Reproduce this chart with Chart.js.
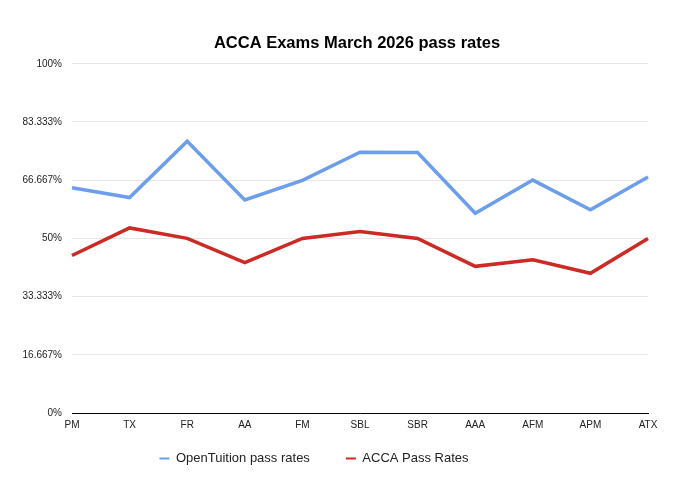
<!DOCTYPE html>
<html>
<head>
<meta charset="utf-8">
<script src="https://cdn.jsdelivr.net/npm/chart.js@4"></script>
<style>
  html, body { margin: 0; padding: 0; background: #fff; }
  #wrap { width: 686px; height: 480px; }
</style>
</head>
<body>
<div id="wrap"><canvas id="myChart" width="686" height="480"></canvas></div>
<script>
// exam papers on the x axis
var papers = ['PM', 'TX', 'FR', 'AA', 'FM', 'SBL', 'SBR', 'AAA', 'AFM', 'APM', 'ATX'];

// pass rates in percent
var openTuitionRates = [64.5, 61.7, 77.8, 61.0, 66.6, 74.7, 74.6, 57.2, 66.7, 58.2, 67.6];
var accaRates = [45.1, 53.0, 50.0, 43.1, 50.0, 52.0, 50.0, 42.0, 43.9, 40.0, 50.0];

// y axis tick labels, one per sixth
var yTickLabels = ['0%', '16.667%', '33.333%', '50%', '66.667%', '83.333%', '100%'];

var fontFamily = '"Liberation Sans", Arial, Helvetica, sans-serif';

// move the title over the plot and the legend a bit left/up, like the original
var boxShift = {
  id: 'boxShift',
  afterLayout: function (chart) {
    chart.titleBlock.left += 33;
    chart.titleBlock.right += 33;
    chart.legend.left -= 10;
    chart.legend.right -= 10;
    chart.legend.top -= 21;
    chart.legend.bottom -= 21;
  }
};

var chartdata = {
  labels: papers,
  datasets: [
    {
      label: 'OpenTuition pass rates',
      data: openTuitionRates,
      borderColor: '#6d9eeb',
      backgroundColor: '#6d9eeb',
      borderWidth: 3.5,
      pointRadius: 0,
      tension: 0,
      fill: false
    },
    {
      label: 'ACCA Pass Rates',
      data: accaRates,
      borderColor: '#cc2a24',
      backgroundColor: '#cc2a24',
      borderWidth: 3.5,
      pointRadius: 0,
      tension: 0,
      fill: false
    }
  ]
};

var ctx = document.getElementById('myChart').getContext('2d');
var chart = new Chart(ctx, {
  type: 'line',
  data: chartdata,
  plugins: [boxShift],
  options: {
    responsive: false,
    animation: false,
    layout: { padding: { left: 0, right: 38, top: 0, bottom: -16 } },
    plugins: {
      title: {
        display: true,
        text: 'ACCA Exams March 2026 pass rates',
        color: '#000',
        font: { family: fontFamily, size: 16.5, weight: 'bold' },
        padding: { top: 34, bottom: 10 }
      },
      legend: {
        position: 'bottom',
        labels: {
          color: '#222',
          font: { family: fontFamily, size: 13 },
          boxWidth: 10,
          boxHeight: 2,
          padding: 36,
          generateLabels: function (c) {
            var items = Chart.defaults.plugins.legend.labels.generateLabels(c);
            items.forEach(function (it) { it.lineWidth = 0; });
            return items;
          }
        }
      },
      tooltip: { enabled: false }
    },
    scales: {
      x: {
        offset: false,
        grid: { display: false, drawTicks: false },
        border: { display: true, color: '#000', width: 1 },
        ticks: {
          color: '#222',
          font: { family: fontFamily, size: 10 },
          padding: 6,
          maxRotation: 0,
          autoSkip: false
        }
      },
      y: {
        min: 0,
        max: 100,
        grid: { color: '#e6e6e6', drawTicks: false },
        border: { display: false },
        ticks: {
          stepSize: 100 / 6,
          color: '#222',
          font: { family: fontFamily, size: 10 },
          padding: 10,
          callback: function (value, index) { return yTickLabels[index]; }
        },
        afterFit: function (scale) { scale.width = 72; }
      }
    }
  }
});
</script>
</body>
</html>
